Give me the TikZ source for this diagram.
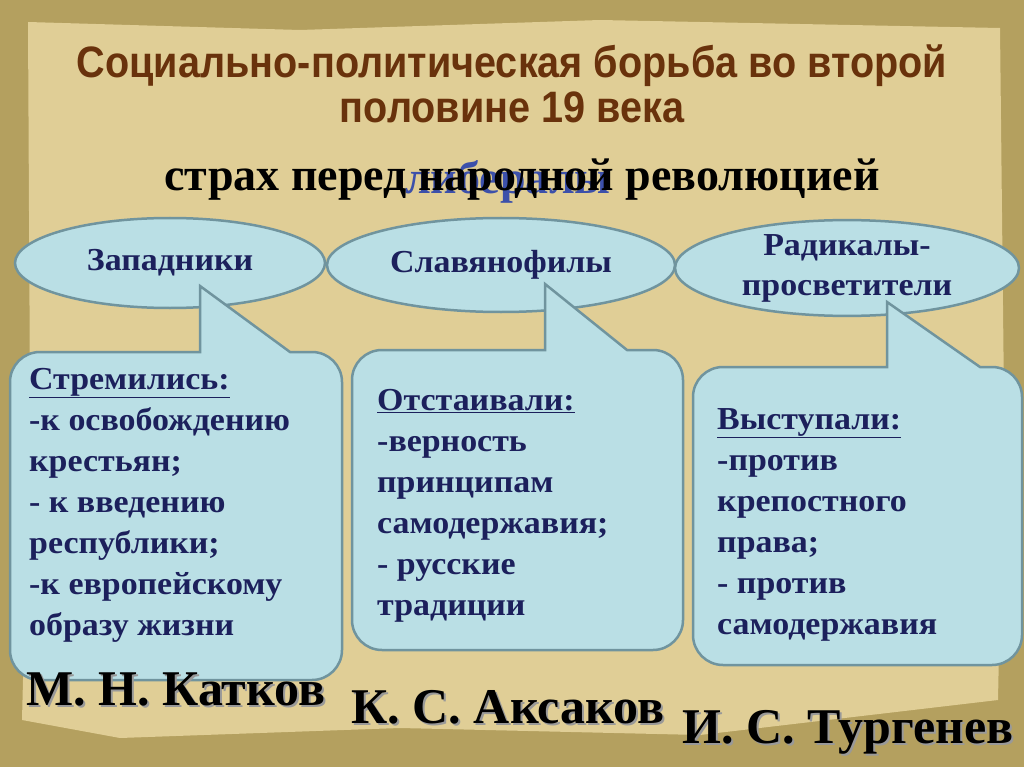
\documentclass[tikz,border=0pt]{standalone}
\usepackage{fontspec}
\setmainfont{Liberation Serif}
\newfontfamily\headfont[FakeStretch=0.9]{Liberation Sans}
\newfontfamily\boxfont[FakeStretch=1.06]{Liberation Serif}
\usepackage{tikz}
\usetikzlibrary{shapes.geometric}

\definecolor{paperlight}{RGB}{224,206,150}
\definecolor{paperdark}{RGB}{180,160,95}
\definecolor{headbrown}{RGB}{105,50,12}
\definecolor{bubblefill}{RGB}{186,223,229}
\definecolor{bubbleline}{RGB}{112,148,158}
\definecolor{inkblue}{RGB}{28,32,92}
\definecolor{hiddenblue}{RGB}{60,80,170}

\begin{document}
\begin{tikzpicture}[x=1pt,y=-1pt,
    every ellipse node/.style={draw=bubbleline,fill=bubblefill,line width=2.5pt,inner sep=0pt,
      font=\boxfont\bfseries\fontsize{32}{40}\selectfont,text=inkblue,align=center},
    bubble/.style={draw=bubbleline,fill=bubblefill,line width=2.5pt},
    bubbletext/.style={anchor=north west,inner sep=0pt,align=left,text=inkblue,
      font=\boxfont\bfseries\fontsize{32}{41}\selectfont},
    person/.style={font=\bfseries\fontsize{50}{50}\selectfont,inner sep=0pt,anchor=base}]
    \useasboundingbox (0,0) rectangle (1024,767);
    % paper
    \fill[paperdark] (0,0) rectangle (1024,767);
    \fill[paperlight] (28,22) -- (300,30) -- (600,20) -- (1000,28) -- (1004,400) -- (998,700)
      -- (700,735) -- (400,728) -- (120,738) -- (22,720) -- (30,400) -- cycle;
    % title
    \node[text=headbrown,font=\headfont\bfseries\fontsize{44}{45}\selectfont,align=center] (title) at (512,84)
      {Социально-политическая борьба во второй\\половине 19 века};
    \node[text=hiddenblue,font=\bfseries\fontsize{46}{46}\selectfont] (lib) at (508,182) {либералы};
    \node[font=\bfseries\fontsize{46}{46}\selectfont] (fear) at (522,180) {страх перед народной революцией};
    % groups
    \node[ellipse,minimum width=310pt,minimum height=90pt] (west) at (170,263) {Западники};
    \node[ellipse,minimum width=348pt,minimum height=94pt] (slav) at (501,265) {Славянофилы};
    \node[ellipse,minimum width=344pt,minimum height=92pt] (rad) at (847,268) {Радикалы-\\просветители};
    % callouts
    \draw[bubble] (200,352) -- (200,286) -- (290,352) [rounded corners=30pt] -- (342,352) -- (342,680)
      -- (10,680) -- (10,352) [sharp corners] -- cycle;
    \draw[bubble] (545,350) -- (545,284) -- (627,350) [rounded corners=30pt] -- (683,350) -- (683,650)
      -- (352,650) -- (352,350) [sharp corners] -- cycle;
    \draw[bubble] (887,367) -- (887,302) -- (980,367) [rounded corners=30pt] -- (1022,367) -- (1022,665)
      -- (693,665) -- (693,367) [sharp corners] -- cycle;
    \node[bubbletext] (westtext) at (29,368) {\underline{Стремились:}\\-к освобождению\\крестьян;\\- к введению\\республики;\\-к европейскому\\образу жизни};
    \node[bubbletext] (slavtext) at (377,389) {\underline{Отстаивали:}\\-верность\\принципам\\самодержавия;\\- русские\\традиции};
    \node[bubbletext] (radtext) at (717,408) {\underline{Выступали:}\\-против\\крепостного\\права;\\- против\\самодержавия};
    % names
    \node[person,text=black!40] at (178,707) {М. Н. Катков};
    \node[person] (katkov) at (176,705) {М. Н. Катков};
    \node[person,text=black!40] at (510,725) {К. С. Аксаков};
    \node[person] (aksakov) at (508,723) {К. С. Аксаков};
    \node[person,text=black!40] at (850,745) {И. С. Тургенев};
    \node[person] (turgenev) at (848,743) {И. С. Тургенев};
\end{tikzpicture}
\end{document}
